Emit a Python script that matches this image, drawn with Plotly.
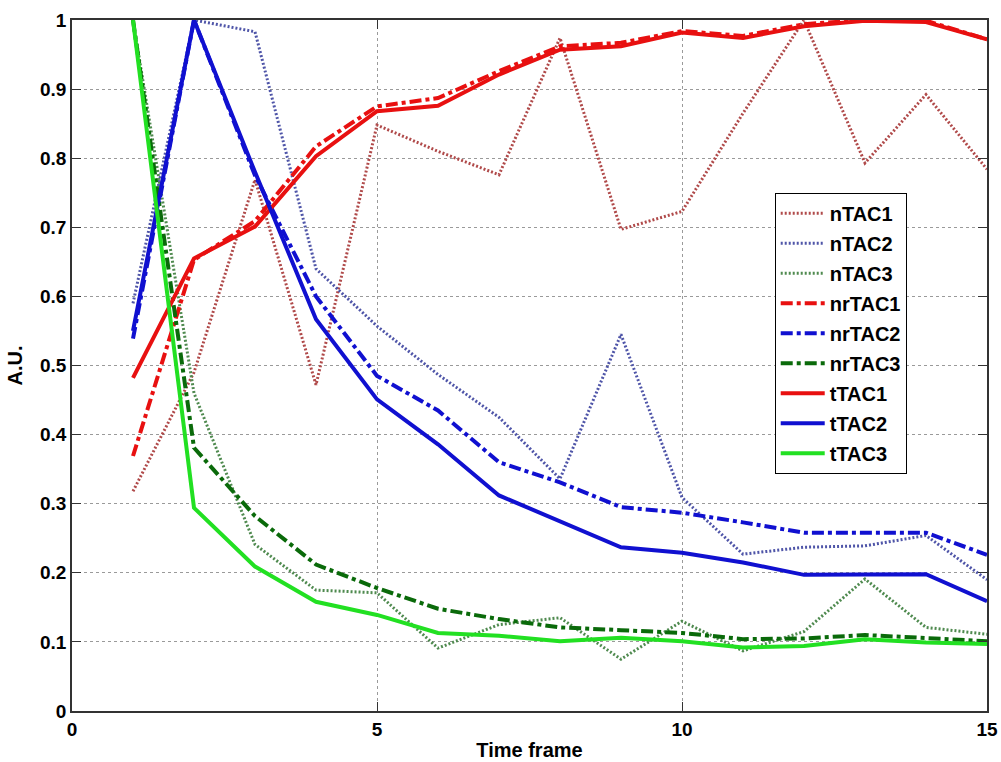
import plotly.graph_objects as go

frames = list(range(1, 16))

nTAC1 = [0.318, 0.49, 0.769, 0.472, 0.848, 0.81, 0.776, 0.974, 0.697, 0.723, 0.865, 1.0, 0.793, 0.892, 0.784]
nTAC2 = [0.59, 1.0, 0.983, 0.64, 0.557, 0.487, 0.425, 0.336, 0.545, 0.309, 0.227, 0.237, 0.239, 0.254, 0.19]
nTAC3 = [1.0, 0.46, 0.241, 0.175, 0.171, 0.091, 0.125, 0.135, 0.075, 0.13, 0.087, 0.115, 0.191, 0.121, 0.111]
nrTAC1 = [0.369, 0.653, 0.709, 0.817, 0.875, 0.887, 0.926, 0.962, 0.967, 0.984, 0.977, 0.994, 1.0, 0.999, 0.972]
nrTAC2 = [0.539, 1.0, 0.775, 0.60, 0.485, 0.435, 0.36, 0.331, 0.295, 0.287, 0.273, 0.258, 0.258, 0.258, 0.226]
nrTAC3 = [1.0, 0.381, 0.282, 0.212, 0.178, 0.148, 0.133, 0.121, 0.117, 0.113, 0.104, 0.105, 0.11, 0.106, 0.101]
tTAC1 = [0.482, 0.655, 0.701, 0.803, 0.868, 0.876, 0.921, 0.957, 0.962, 0.982, 0.974, 0.991, 0.999, 0.997, 0.972]
tTAC2 = [0.55, 1.0, 0.78, 0.567, 0.451, 0.386, 0.312, 0.275, 0.237, 0.229, 0.215, 0.197, 0.197, 0.198, 0.159]
tTAC3 = [1.0, 0.294, 0.209, 0.158, 0.139, 0.113, 0.109, 0.101, 0.106, 0.101, 0.092, 0.094, 0.104, 0.099, 0.097]

series = [
    ("nTAC1", nTAC1, "#b04a4a", "2px,2px", 3),
    ("nTAC2", nTAC2, "#4f55a8", "2px,2px", 3),
    ("nTAC3", nTAC3, "#4f8a4f", "2px,2px", 3),
    ("nrTAC1", nrTAC1, "#e81010", "dashdot", 4),
    ("nrTAC2", nrTAC2, "#1010d0", "dashdot", 4),
    ("nrTAC3", nrTAC3, "#0a6a0a", "dashdot", 4),
    ("tTAC1", tTAC1, "#e81010", "solid", 4),
    ("tTAC2", tTAC2, "#1010d0", "solid", 4),
    ("tTAC3", tTAC3, "#22e022", "solid", 4),
]

fig = go.Figure()
for name, vals, color, dash, w in series:
    fig.add_trace(go.Scatter(
        x=frames, y=vals, mode="lines", name=name, legendgroup=name,
        line=dict(color=color, dash=dash, width=w),
    ))

FAM = "Liberation Sans, Arial, sans-serif"
axis_common = dict(
    showline=True, linecolor="#333", linewidth=1.5, mirror="ticks",
    ticks="inside", ticklen=9, tickcolor="#333",
    showgrid=True, gridcolor="#9a9a9a", griddash="dot", gridwidth=1,
    zeroline=False, automargin=False,
    tickfont=dict(family=FAM, size=19, color="black", weight="bold"),
)

fig.update_layout(
    width=1001, height=762,
    margin=dict(l=72, r=14, t=20, b=51),
    paper_bgcolor="white", plot_bgcolor="white",
    font=dict(family=FAM, size=19, color="black"),
    showlegend=True,
    legend=dict(
        x=0.768, y=0.750, xanchor="left", yanchor="top",
        bgcolor="white", bordercolor="black", borderwidth=1,
        font=dict(family=FAM, size=20, color="black", weight="bold"),
        tracegroupgap=1, traceorder="grouped", itemwidth=44,
    ),
    xaxis=dict(range=[0, 15], tickvals=[0, 5, 10, 15],
               title=dict(text="<b>Time frame</b>", standoff=4, font=dict(size=20)), **axis_common),
    yaxis=dict(range=[0, 1], dtick=0.1, tick0=0,
               title=dict(text="<b>A.U.</b>", standoff=12, font=dict(size=20)), **axis_common),
)

fig.write_html("out.html")
